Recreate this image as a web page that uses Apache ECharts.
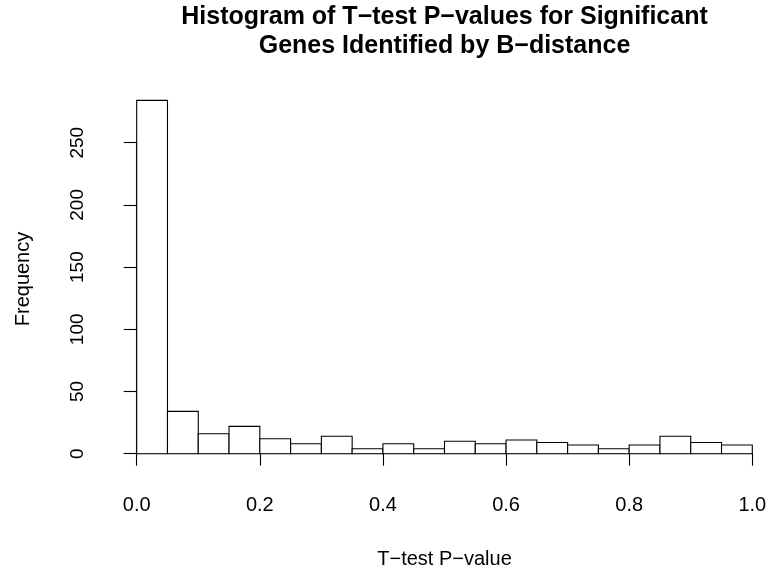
<!DOCTYPE html>
<html>
<head>
<meta charset="utf-8">
<script src="https://cdn.jsdelivr.net/npm/echarts@6/dist/echarts.min.js"></script>
<style>
  html, body { margin: 0; padding: 0; background: #fff; }
  #chart { width: 771px; height: 575px; }
</style>
</head>
<body>
<div id="chart"></div>
<script>
// Histogram bin edges (width 0.05) and the count in each bin
const binBreaks = [0.00, 0.05, 0.10, 0.15, 0.20, 0.25, 0.30, 0.35, 0.40, 0.45, 0.50,
                   0.55, 0.60, 0.65, 0.70, 0.75, 0.80, 0.85, 0.90, 0.95, 1.00];
const binCounts = [284, 34, 16, 22, 12, 8, 14, 4, 8, 4, 10, 8, 11, 9, 7, 4, 7, 14, 9, 7];

// Axis tick values and their labels
const xTickValues = [0, 0.2, 0.4, 0.6, 0.8, 1.0];
const xTickLabels = ['0.0', '0.2', '0.4', '0.6', '0.8', '1.0'];
const yTickValues = [0, 50, 100, 150, 200, 250];
const yTickLabels = ['0', '50', '100', '150', '200', '250'];

const titleLines = ['Histogram of T\u2212test P\u2212values for Significant',
                    'Genes Identified by B\u2212distance'];
const xName = 'T\u2212test P\u2212value';
const yName = 'Frequency';

const FONT = '"Liberation Sans", Arial, Helvetica, sans-serif';

// One rectangle per bin: [start, end, count]
const histData = binCounts.map((c, i) => [binBreaks[i], binBreaks[i + 1], c]);

function labelFor(values, labels) {
  return function (v) {
    for (let i = 0; i < values.length; i++) {
      if (Math.abs(values[i] - v) < 1e-9) return labels[i];
    }
    return '';
  };
}

const chart = echarts.init(document.getElementById('chart'), null, { renderer: 'canvas' });

chart.setOption({
  backgroundColor: '#ffffff',
  animation: false,
  grid: { left: 136.7, right: 18.7, top: 142.7, bottom: 121.3, containLabel: false },
  xAxis: {
    type: 'value',
    min: 0, max: 1, interval: 0.2,
    offset: 15.3,
    axisLine: { show: true, lineStyle: { color: '#000', width: 1.1 } },
    axisTick: { show: true, length: 12, lineStyle: { color: '#000', width: 1.1 } },
    axisLabel: {
      margin: 26, fontSize: 20, color: '#000', fontFamily: FONT,
      formatter: labelFor(xTickValues, xTickLabels)
    },
    splitLine: { show: false },
    name: xName,
    nameLocation: 'middle',
    nameGap: 80,
    nameTextStyle: { fontSize: 20, color: '#000', fontFamily: FONT }
  },
  yAxis: {
    type: 'value',
    min: 0, max: 250, interval: 50,
    offset: 24,
    axisLine: { show: true, lineStyle: { color: '#000', width: 1.1 } },
    axisTick: { show: true, length: 13, lineStyle: { color: '#000', width: 1.1 } },
    axisLabel: {
      rotate: 90, margin: 25, fontSize: 19, color: '#000', fontFamily: FONT,
      formatter: labelFor(yTickValues, yTickLabels)
    },
    splitLine: { show: false }
  },
  graphic: [
    {
      type: 'text', x: 444.5, y: 17.3,
      style: { text: titleLines[0], fill: '#000', font: 'bold 25px ' + FONT,
               textAlign: 'center', textVerticalAlign: 'middle' }
    },
    {
      type: 'text', x: 444.5, y: 46.3,
      style: { text: titleLines[1], fill: '#000', font: 'bold 25px ' + FONT,
               textAlign: 'center', textVerticalAlign: 'middle' }
    },
    {
      type: 'text', x: 23, y: 279, rotation: Math.PI / 2,
      style: { text: yName, fill: '#000', font: '20px ' + FONT,
               textAlign: 'center', textVerticalAlign: 'middle' }
    }
  ],
  series: [{
    type: 'custom',
    clip: false,
    data: histData,
    renderItem: function (params, api) {
      const p0 = api.coord([api.value(0), api.value(2)]);
      const p1 = api.coord([api.value(1), 0]);
      return {
        type: 'rect',
        shape: { x: p0[0], y: p0[1], width: p1[0] - p0[0], height: p1[1] - p0[1] },
        style: { fill: '#ffffff', stroke: '#000000', lineWidth: 1.1 }
      };
    }
  }]
});
</script>
</body>
</html>
